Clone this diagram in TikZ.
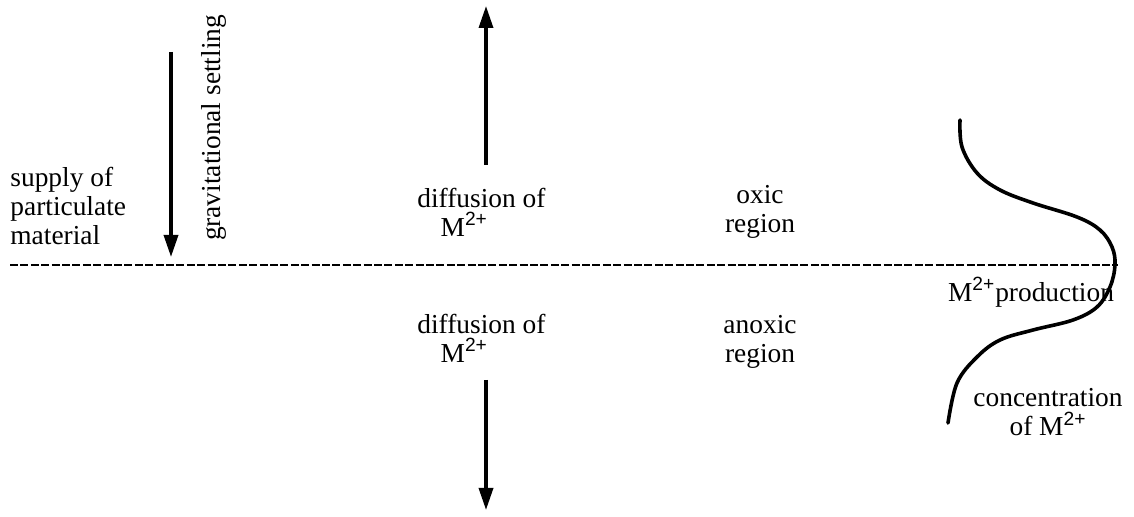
\documentclass[tikz,border=0pt]{standalone}
\usepackage{fontspec}
\setmainfont{Liberation Serif}
\newfontfamily\supfont{Liberation Sans}
\usetikzlibrary{arrows.meta,positioning}
\newcommand{\Mion}{M\textsuperscript{\supfont 2+}}

\begin{document}
\begin{tikzpicture}[
  x=0.5pt, y=0.5pt,
  every node/.style={font=\fontsize{13.7}{14.6}\selectfont, inner sep=0pt},
  lbl/.style  ={align=center},
  lbll/.style ={align=left, anchor=west},
  flux/.style ={-{Triangle[length=11pt,width=7pt]}, line width=1.7pt},
  iface/.style={line width=0.8pt, dash pattern=on 4pt off 1.2pt},
  profile/.style={line width=1.8pt, line cap=round}
]
\useasboundingbox (0,0) rectangle (1134,-517);

% oxic / anoxic boundary
\coordinate (ifL) at (10,-265);
\coordinate (ifR) at (1118,-265);
\draw[iface] (ifL) -- (ifR);

% settling of particles
\node[lbll] (supply) at (10,-206) {supply of\\particulate\\material};
\node[rotate=90] (settle) at (214,-128) {gravitational settling};
\coordinate (setTop) at (171,-52);
\coordinate (setBot) at (171,-257);
\draw[flux] (setTop) -- (setBot);

% diffusion upwards and downwards
\node[lbll] (diffup)  at (417,-212) {diffusion of\\\hspace*{0.85em}\Mion};
\node[lbll] (difflow) at (417,-338) {diffusion of\\\hspace*{0.85em}\Mion};
\coordinate (upTail)  at (486,-165);
\coordinate (upTip)   at (486,-6);
\coordinate (lowTail) at (486,-380);
\coordinate (lowTip)  at (486,-510);
\draw[flux] (upTail)  -- (upTip);
\draw[flux] (lowTail) -- (lowTip);

% regions
\node[lbl] (oxic)   at (760,-212) {oxic\\region};
\node[lbl] (anoxic) at (760,-342) {anoxic\\region};

% concentration profile
\draw[profile] plot[smooth, tension=0.6] coordinates {
  (960,-120) (962,-147) (977,-173) (1000,-190) (1033,-203) (1077,-217)
  (1100,-230) (1112,-247) (1115,-265) (1110,-287) (1097,-307) (1073,-320)
  (1033,-330) (1000,-340) (977,-357) (957,-383) (948,-423)};
\node (prod) at (1031,-292) {\Mion{}production};
\node[lbl] (conc) at (1048,-412) {concentration\\of \Mion};

\end{tikzpicture}
\end{document}
